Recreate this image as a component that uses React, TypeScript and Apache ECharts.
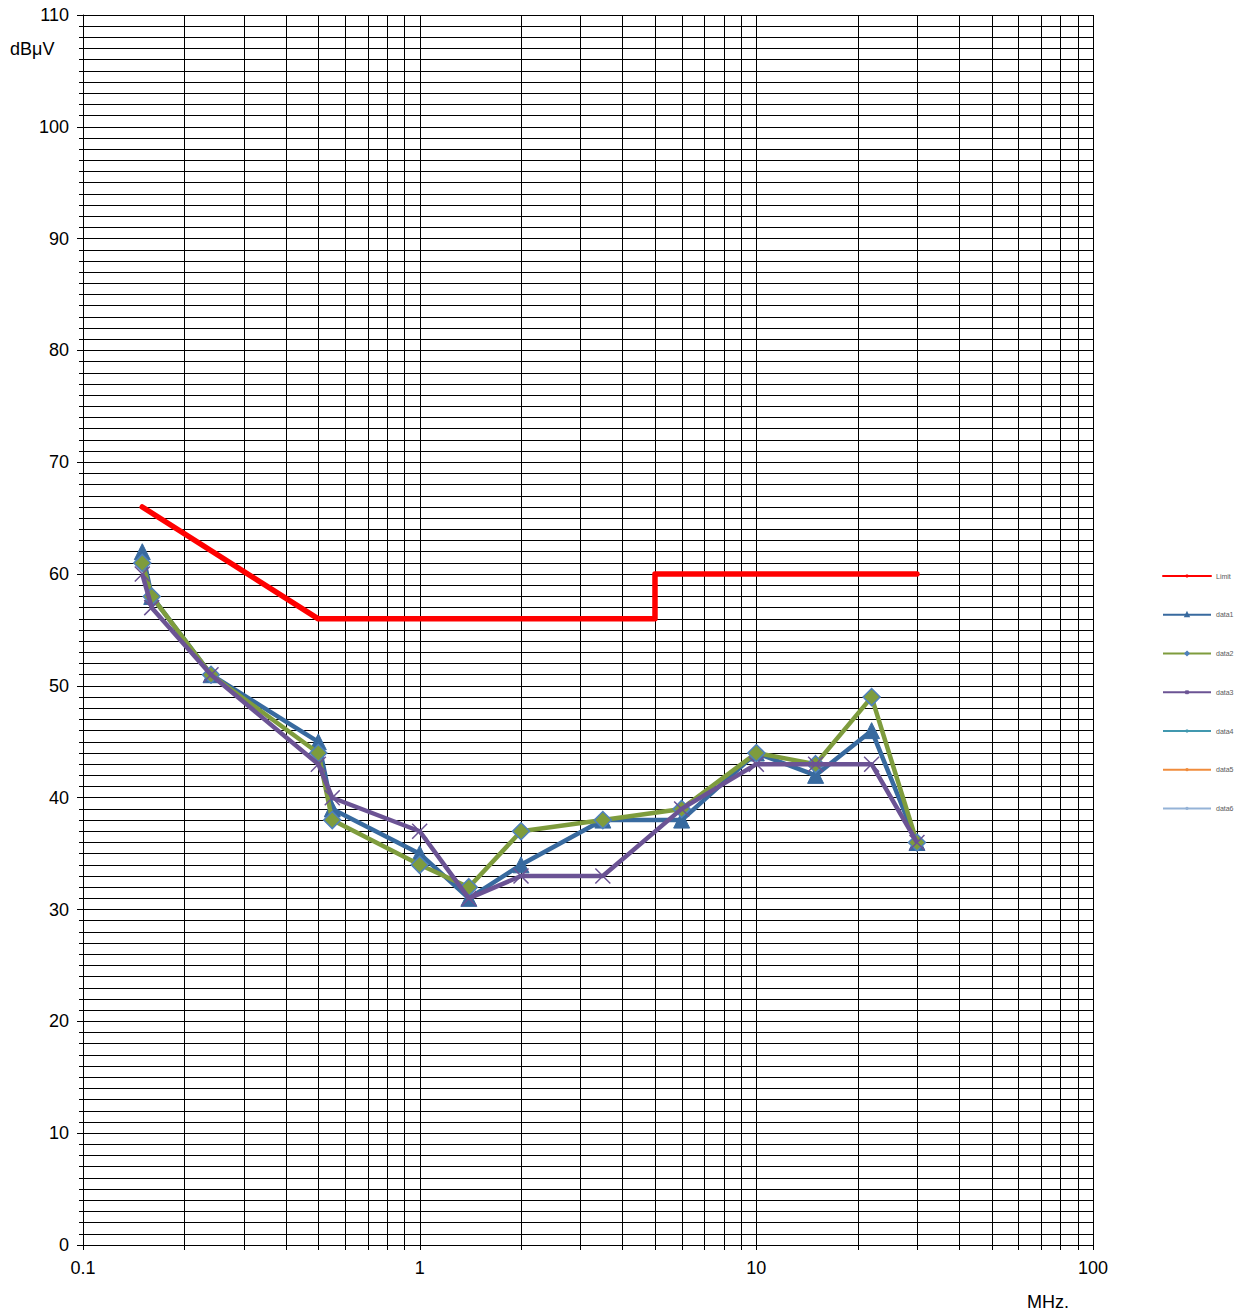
import React, { useEffect, useRef } from "react";
import * as echarts from "echarts";

// Measurement frequencies (MHz)
const freqs = [0.15, 0.16, 0.24, 0.5, 0.55, 1, 1.4, 2, 3.5, 6, 10, 15, 22, 30];
// Measured levels (dBµV)
const data1 = [62, 58, 51, 45, 39, 35, 31, 34, 38, 38, 44, 42, 46, 36];
const data2 = [61, 58, 51, 44, 38, 34, 32, 37, 38, 39, 44, 43, 49, 36];
const data3 = [60, 57, 51, 43, 40, 37, 31, 33, 33, 39, 43, 43, 43, 36];

// Limit line
const limitFreqs = [0.15, 0.5, 5, 5, 30];
const limitVals = [66, 56, 56, 60, 60];

// Vertical log grid lines (1..9 per decade)
const gridFreqs = [
  0.1, 0.2, 0.3, 0.4, 0.5, 0.6, 0.7, 0.8, 0.9,
  1, 2, 3, 4, 5, 6, 7, 8, 9,
  10, 20, 30, 40, 50, 60, 70, 80, 90,
  100,
];

const xTickLabels = ["0.1", "1", "10", "100"];
const legendNames = ["Limit", "data1", "data2", "data3", "data4", "data5", "data6"];

const FONT = "'Liberation Sans', Arial, Helvetica, sans-serif";
const BLUE = "#386a9f";
const GREEN = "#7e9c3d";
const PURPLE = "#6b5394";
const LEGEND_TEXT = { fontSize: 7, lineHeight: 8, color: "#595959", fontFamily: FONT };

const pairs = (xs: number[], ys: number[]) => xs.map((x, i) => [x, ys[i]]);

export default function App() {
  const ref = useRef<HTMLDivElement>(null);

  useEffect(() => {
    if (!ref.current) return;
    const chart = echarts.init(ref.current, undefined, { renderer: "svg" });

    const option: any = {
      animation: false,
      backgroundColor: "#ffffff",
      grid: { left: 83, top: 15, right: 148, bottom: 70, containLabel: false },
      legend: {
        orient: "vertical",
        left: 1162,
        top: 572,
        padding: 0,
        itemWidth: 48,
        itemHeight: 4,
        itemGap: 30.7,
        textStyle: LEGEND_TEXT,
        data: legendNames.map((name) => ({ name, textStyle: LEGEND_TEXT })),
      },
      xAxis: {
        type: "log",
        logBase: 10,
        min: 0.1,
        max: 100,
        axisLine: { show: true, lineStyle: { color: "#000", width: 1 } },
        axisTick: { show: false },
        splitLine: { show: false },
        axisLabel: {
          margin: 14,
          fontSize: 18,
          color: "#000",
          fontFamily: FONT,
          formatter: (v: number) => {
            const idx = Math.round(Math.log10(v)) + 1;
            return xTickLabels[idx] ?? String(v);
          },
        },
      },
      yAxis: {
        type: "value",
        min: 0,
        max: 110,
        interval: 10,
        axisLine: { show: true, lineStyle: { color: "#000", width: 1 } },
        axisTick: { show: true, length: 6, lineStyle: { color: "#000" } },
        minorTick: { show: true, splitNumber: 10, length: 4, lineStyle: { color: "#000" } },
        splitLine: { show: true, lineStyle: { color: "#000", width: 1 } },
        minorSplitLine: { show: true, lineStyle: { color: "#000", width: 1 } },
        axisLabel: { margin: 14, fontSize: 18, color: "#000", fontFamily: FONT },
      },
      graphic: [
        {
          type: "text",
          left: 10,
          top: 40,
          style: { text: "dBμV", fontSize: 18, fill: "#000", fontFamily: FONT },
        },
        {
          type: "text",
          left: 1027,
          top: 1293,
          style: { text: "MHz.", fontSize: 18, fill: "#000", fontFamily: FONT },
        },
      ],
      series: [
        {
          name: "grid",
          type: "custom",
          silent: true,
          z: 1,
          clip: false,
          data: gridFreqs.map((f) => [f, 0]),
          renderItem: (_params: any, api: any) => {
            const f = api.value(0);
            const top = api.coord([f, 110]);
            const bot = api.coord([f, 0]);
            const x = Math.round(top[0]) + 0.5;
            return {
              type: "line",
              shape: { x1: x, y1: top[1], x2: x, y2: bot[1] + 5 },
              style: { stroke: "#000", lineWidth: 1 },
            };
          },
        },
        {
          name: "Limit",
          type: "line",
          z: 3,
          data: pairs(limitFreqs, limitVals),
          showSymbol: false,
          symbol: "none",
          legendIcon: "rect",
          color: "#ff0000",
          itemStyle: { color: "#ff0000" },
          lineStyle: { color: "#ff0000", width: 5.5, join: "round", cap: "round" },
        },
        {
          name: "data1",
          type: "line",
          z: 4,
          data: pairs(freqs, data1),
          symbol: "triangle",
          symbolSize: 16,
          color: BLUE,
          itemStyle: { color: BLUE, borderColor: BLUE, borderWidth: 1 },
          lineStyle: { color: BLUE, width: 4.5 },
        },
        {
          name: "data2",
          type: "line",
          z: 5,
          data: pairs(freqs, data2),
          symbol: "diamond",
          symbolSize: 17,
          color: GREEN,
          itemStyle: { color: GREEN, borderColor: "#4f81bd", borderWidth: 1.5 },
          lineStyle: { color: GREEN, width: 4.5 },
        },
        {
          name: "data3",
          type: "line",
          z: 6,
          data: pairs(freqs, data3),
          symbol: "path://M0,0L10,10M10,0L0,10",
          symbolSize: 15,
          color: PURPLE,
          itemStyle: { color: "none", borderColor: PURPLE, borderWidth: 1.5 },
          lineStyle: { color: PURPLE, width: 4.5 },
        },
        { name: "data4", type: "line", data: [], symbol: "circle", color: "#4198af", lineStyle: { color: "#4198af", width: 3 }, itemStyle: { color: "#4198af", borderWidth: 0 } },
        { name: "data5", type: "line", data: [], symbol: "circle", color: "#f08c3c", lineStyle: { color: "#f08c3c", width: 3 }, itemStyle: { color: "#f08c3c", borderWidth: 0 } },
        { name: "data6", type: "line", data: [], symbol: "circle", color: "#95b3d7", lineStyle: { color: "#95b3d7", width: 3 }, itemStyle: { color: "#95b3d7", borderWidth: 0 } },
      ],
    };

    chart.setOption(option);
    return () => chart.dispose();
  }, []);

  return (
    <div
      ref={ref}
      style={{ position: "absolute", left: 0, top: 0, width: 1241, height: 1315, background: "#fff" }}
    />
  );
}
